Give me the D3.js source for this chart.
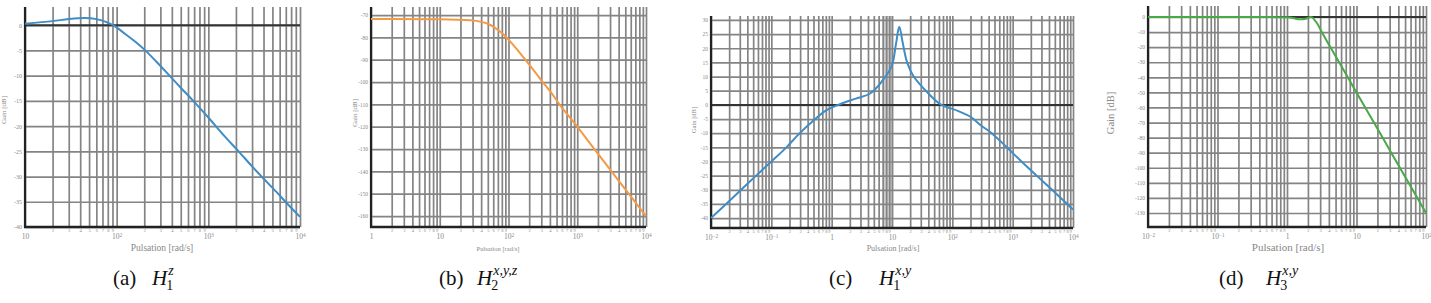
<!DOCTYPE html>
<meta charset="utf-8">
<style>
	body { margin: 0; background: #fff; }
	svg text { font-family: "Liberation Serif", "DejaVu Serif", serif; }
	.grid line { stroke: #848484; stroke-width: 1.7; }
	.grid .domain { display: none; }
	.lbl .domain { display: none; }
	.lbl text { fill: #8a8a8a; }
</style>
<body>
<script src="https://cdnjs.cloudflare.com/ajax/libs/d3/7.8.5/d3.min.js"></script>
<script>

	// (a) H1^z
	var aOmega = [10, 20, 30, 45, 60, 75, 95, 125, 160, 205, 270, 360, 500, 700, 1000, 1500, 2140, 3000, 3900, 5500, 7100, 10000];
	var aGain  = [0.3, 0.8, 1.2, 1.4, 1.2, 0.7, -0.2, -1.8, -3.3, -5, -7.2, -9.6, -12.4, -15.2, -18.3, -22, -25, -28, -30.2, -33, -35.2, -38];
	var aYTicks = [0, -5, -10, -15, -20, -25, -30, -35, -40];

	// (b) H2^{x,y,z}
	var bOmega = [1, 10, 20, 32, 50, 80, 100, 130, 180, 250, 320, 400, 600, 1000, 1800, 3300, 5900, 10000];
	var bGain  = [-71.8, -71.9, -72.2, -72.5, -73.9, -78, -81, -85, -90.4, -96, -100.3, -104, -111.5, -120, -130.3, -140.8, -150.9, -160];
	var bYTicks = [-70, -80, -90, -100, -110, -120, -130, -140, -150, -160];

	// (c) H1^{x,y}
	var cOmega = [0.01, 0.0178, 0.0316, 0.056, 0.1, 0.178, 0.28, 0.5, 0.8, 1.4, 2.5, 4.4, 7.8, 10, 11.7, 13.2, 15.1, 17.8, 22.9, 39.8, 63, 126, 200, 300, 450, 800, 1400, 2500, 4500, 8000, 10000];
	var cGain  = [-40, -35, -30, -25, -20, -15, -10.5, -5.5, -2, 0.3, 2.2, 4.1, 10, 14, 21.8, 27.6, 21.8, 15, 10, 4.1, 0.3, -2.2, -4.2, -7.3, -10, -15, -20, -25, -30, -35, -37];
	var cYTicks = [30, 25, 20, 15, 10, 5, 0, -5, -10, -15, -20, -25, -30, -35, -40];
	var cBand = [7.2, 10.5];

	// (d) H3^{x,y}
	var dOmega = [0.01, 0.1, 1, 1.26, 1.51, 1.86, 2.24, 2.69, 3.16, 3.98, 5.01, 6.31, 7.94, 10, 17.8, 31.6, 56.2, 100];
	var dGain  = [0, 0, -0.2, -0.8, -1.5, -1.2, -0.1, -4, -10, -18, -26, -34, -42, -50, -70, -90, -110, -130];
	var dYTicks = [0, -10, -20, -30, -40, -50, -60, -70, -80, -90, -100, -110, -120, -130];

	var panels = [
		{omega: aOmega, gain: aGain, yTicks: aYTicks, xDomain: [10, 1e4], yDomain: [-40, 3.6], color: "#3f8dc6",
		 left: 25, right: 300, top: 7, bottom: 227, zero: true,
		 yTitle: [6, 110, 7], xTitle: [162, 251, 9.5], yFont: 6,
		 cap: {x0: 113, xH: 152, letter: "(a)", sup: "z", sub: "1"}},
		{omega: bOmega, gain: bGain, yTicks: bYTicks, xDomain: [1, 1e4], yDomain: [-164.9, -66.4], color: "#f39a45",
		 left: 371, right: 646, top: 7, bottom: 227, zero: false,
		 yTitle: [357, 113, 7], xTitle: [498, 251, 6.5], yFont: 5.5,
		 cap: {x0: 439, xH: 477, letter: "(b)", sup: "x,y,z", sub: "2"}},
		{omega: cOmega, gain: cGain, yTicks: cYTicks, xDomain: [0.01, 1e4], yDomain: [-43.5, 31.4], color: "#3f8dc6",
		 left: 711, right: 1073, top: 16, bottom: 228, zero: true, band: cBand,
		 yTitle: [696, 120, 6.5], xTitle: [893, 251, 8], yFont: 5.5,
		 cap: {x0: 829, xH: 879, letter: "(c)", sup: "x,y", sub: "1"}},
		{omega: dOmega, gain: dGain, yTicks: dYTicks, xDomain: [0.01, 100], yDomain: [-139.3, 7.3], color: "#4aa847",
		 left: 1148, right: 1426, top: 6, bottom: 227, zero: true,
		 yTitle: [1114, 113, 10.5], xTitle: [1288, 251, 11], yFont: 5.5,
		 cap: {x0: 1219, xH: 1266, letter: "(d)", sup: "x,y", sub: "3"}}
	];

	var svg = d3.select("body").append("svg")
		.attr("width", 1431)
		.attr("height", 303);

	panels.forEach(drawPanel);

	function drawPanel(p) {
		var x = d3.scaleLog().domain(p.xDomain).range([p.left, p.right]);
		var y = d3.scaleLinear().domain(p.yDomain).range([p.bottom, p.top]);
		var h = p.bottom - p.top, w = p.right - p.left;
		var g = svg.append("g");

		var lo = Math.round(Math.log10(p.xDomain[0])), hi = Math.round(Math.log10(p.xDomain[1]));
		var decades = d3.range(lo, hi + 1).map(function(e) { return Math.pow(10, e); });
		var minors = [];
		decades.slice(0, -1).forEach(function(dv) {
			for (var k = 2; k <= 9; k++) minors.push(k * dv);
		});

		if (p.band) {
			g.append("rect")
				.attr("x", x(p.band[0]))
				.attr("width", x(p.band[1]) - x(p.band[0]))
				.attr("y", p.top)
				.attr("height", h)
				.attr("fill", "#cdcdcd");
		}

		// vertical grid
		g.append("g").attr("class", "grid")
			.attr("transform", "translate(0," + p.bottom + ")")
			.call(d3.axisBottom(x).tickValues(decades.concat(minors)).tickSize(-h).tickFormat(""));

		// horizontal grid + y labels
		var ya = g.append("g").attr("class", "grid lbl")
			.attr("transform", "translate(" + p.left + ",0)")
			.call(d3.axisLeft(y).tickValues(p.yTicks).tickSize(-w).tickPadding(3)
				.tickFormat(function(d) { return String(d); }));
		ya.selectAll("text").attr("font-size", p.yFont).attr("font-family", "Liberation Serif");

		if (p.zero) {
			g.append("line")
				.attr("x1", p.left).attr("x2", p.right)
				.attr("y1", y(0)).attr("y2", y(0))
				.attr("stroke", "#333").attr("stroke-width", 2);
		}

		// axes lines
		g.append("line").attr("x1", p.left).attr("x2", p.left).attr("y1", p.top).attr("y2", p.bottom + 1)
			.attr("stroke", "#222").attr("stroke-width", 2.2);
		g.append("line").attr("x1", p.left - 1).attr("x2", p.right).attr("y1", p.bottom).attr("y2", p.bottom)
			.attr("stroke", "#222").attr("stroke-width", 2.4);

		// decade labels
		var xd = g.append("g").attr("class", "lbl")
			.attr("transform", "translate(0," + p.bottom + ")")
			.call(d3.axisBottom(x).tickValues(decades).tickSize(0).tickPadding(7).tickFormat(""));
		xd.selectAll(".tick text").each(function(d) {
			var e = Math.round(Math.log10(d));
			var t = d3.select(this).attr("font-size", 7.5).attr("font-family", "Liberation Serif");
			if (e === 0) t.text("1");
			else if (e === 1) t.text("10");
			else {
				t.text("10");
				t.append("tspan").attr("dy", "-0.45em").attr("font-size", "0.7em").text(e < 0 ? "\u2212" + (-e) : e);
			}
		});

		// minor digit labels
		var xm = g.append("g").attr("class", "lbl")
			.attr("transform", "translate(0," + p.bottom + ")")
			.call(d3.axisBottom(x).tickValues(minors).tickSize(0).tickPadding(2)
				.tickFormat(function(d) { return String(Math.round(d / Math.pow(10, Math.floor(Math.log10(d) + 1e-9)))); }));
		xm.selectAll("text").attr("font-size", 4.5).attr("font-family", "Liberation Serif");

		// curve
		var line = d3.line()
			.x(function(d, i) { return x(p.omega[i]); })
			.y(function(d) { return y(d); })
			.curve(d3.curveCatmullRom.alpha(0.5));
		g.append("path")
			.datum(p.gain)
			.attr("d", line)
			.attr("fill", "none")
			.attr("stroke", p.color)
			.attr("stroke-width", 2);

		// titles
		g.append("text")
			.attr("transform", "translate(" + p.yTitle[0] + "," + p.yTitle[1] + ") rotate(-90)")
			.attr("text-anchor", "middle")
			.attr("font-size", p.yTitle[2])
			.attr("fill", "#888")
			.text("Gain [dB]");
		g.append("text")
			.attr("x", p.xTitle[0]).attr("y", p.xTitle[1])
			.attr("text-anchor", "middle")
			.attr("font-size", p.xTitle[2])
			.attr("fill", "#888")
			.text("Pulsation [rad/s]");

		// caption
		var c = p.cap, base = 285;
		g.append("text").attr("x", c.x0).attr("y", base).attr("font-size", 21).attr("fill", "#111").text(c.letter);
		var H = g.append("text").attr("x", c.xH).attr("y", base).attr("font-size", 21)
			.attr("font-style", "italic").attr("fill", "#111").text("H");
		var hw = H.node().getComputedTextLength();
		g.append("text").attr("x", c.xH + hw + 1).attr("y", base - 10).attr("font-size", 14)
			.attr("font-style", "italic").attr("fill", "#111").text(c.sup);
		g.append("text").attr("x", c.xH + hw - 1).attr("y", base + 5).attr("font-size", 14)
			.attr("fill", "#111").text(c.sub);
	}

</script>
</body>
